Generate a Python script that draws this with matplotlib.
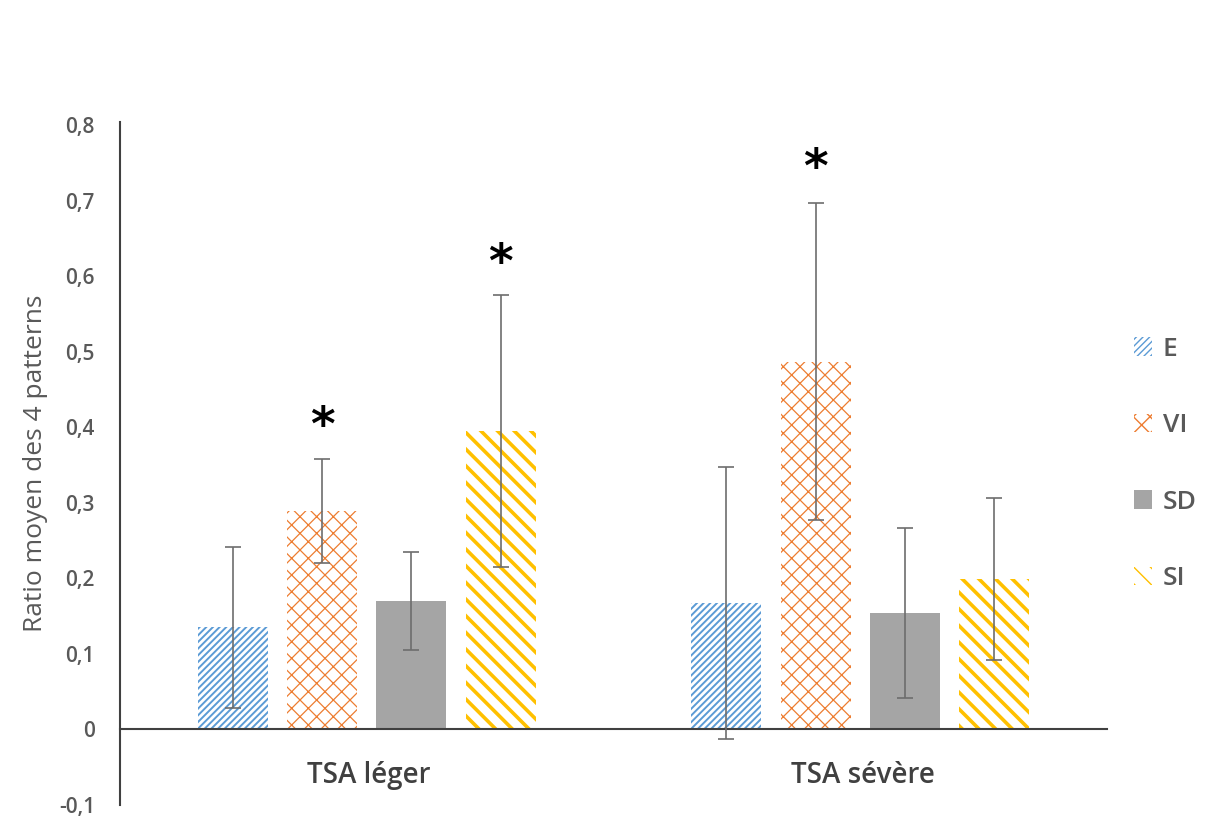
import matplotlib
matplotlib.use("Agg")
import matplotlib.pyplot as plt
import numpy as np

# donnees
groupes = ["TSA léger", "TSA sévère"]
patterns = ["E", "VI", "SD", "SI"]
moy_leger = [0.135, 0.289, 0.170, 0.395]
moy_severe = [0.167, 0.487, 0.154, 0.199]
err_leger = [0.107, 0.069, 0.065, 0.180]
err_severe = [0.180, 0.210, 0.112, 0.107]
etoiles = [(0, 1, 0.399), (0, 3, 0.615), (1, 1, 0.741)]  # (groupe, pattern, hauteur)

couleurs = ["#5B9BD5", "#ED7D31", "#A5A5A5", "#FFC000"]
hachures = ["/////", "xx", None, "\\\\"]
epaisseurs = [1.4, 0.9, 1.0, 2.6]

plt.rcParams['font.family'] = ['Open Sans', 'DejaVu Sans']
plt.rcParams['font.weight'] = 'semibold'

fig = plt.figure(figsize=(12.31, 8.26), dpi=100)
ax = fig.add_axes([120/1231, 21/826, 987/1231, 683/826])

x = np.arange(len(groupes))
larg = 0.142
ecart = 0.181
moyennes = np.array([moy_leger, moy_severe])
erreurs = np.array([err_leger, err_severe])

for i, nom in enumerate(patterns):
    pos = x + (i - 1.5) * ecart
    with plt.rc_context({'hatch.linewidth': epaisseurs[i]}):
        if hachures[i] is None:
            ax.bar(pos, moyennes[:, i], larg, color=couleurs[i], label=nom, zorder=2)
        else:
            ax.bar(pos, moyennes[:, i], larg, facecolor="white", edgecolor=couleurs[i],
                   hatch=hachures[i], linewidth=0, label=nom, zorder=2)
    ax.errorbar(pos, moyennes[:, i], yerr=erreurs[:, i], fmt="none", ecolor="#6d6d6d",
                elinewidth=1.2, capsize=6, capthick=1.2, zorder=3)

for g, p, h in etoiles:
    ax.text(x[g] + (p - 1.5) * ecart, h, "*", ha="center", va="center",
            fontsize=34, fontweight="bold", family="DejaVu Sans")

ax.set_xlim(-0.5, 1.5)
ax.set_ylim(-0.1, 0.804)
ticks = np.arange(-0.1, 0.81, 0.1)
ax.set_yticks(ticks)
ax.set_yticklabels(["0" if abs(v) < 1e-9 else f"{v:.1f}".replace(".", ",") for v in ticks])
ax.set_xticks(x + 0.005)
ax.set_xticklabels(groupes)

ax.spines['top'].set_visible(False)
ax.spines['right'].set_visible(False)
ax.spines['bottom'].set_position(('data', 0))
ax.spines['bottom'].set_color("#404040")
ax.spines['bottom'].set_linewidth(1.5)
ax.spines['left'].set_color("#404040")
ax.spines['left'].set_linewidth(1.5)
ax.tick_params(axis='y', length=0, pad=18, labelsize=15, labelcolor="#595959")
ax.tick_params(axis='x', length=0, pad=23, labelsize=20, labelcolor="#404040")

ax.set_ylabel("Ratio moyen des 4 patterns", fontsize=19, color="#595959", labelpad=8)

fig.legend(loc="center left", bbox_to_anchor=(1110/1231, 1 - 464/826), frameon=False,
           fontsize=19, handlelength=0.7, handleheight=0.7, labelspacing=1.95,
           handletextpad=0.4, labelcolor="#595959")

fig.savefig("out.png", dpi=100)
